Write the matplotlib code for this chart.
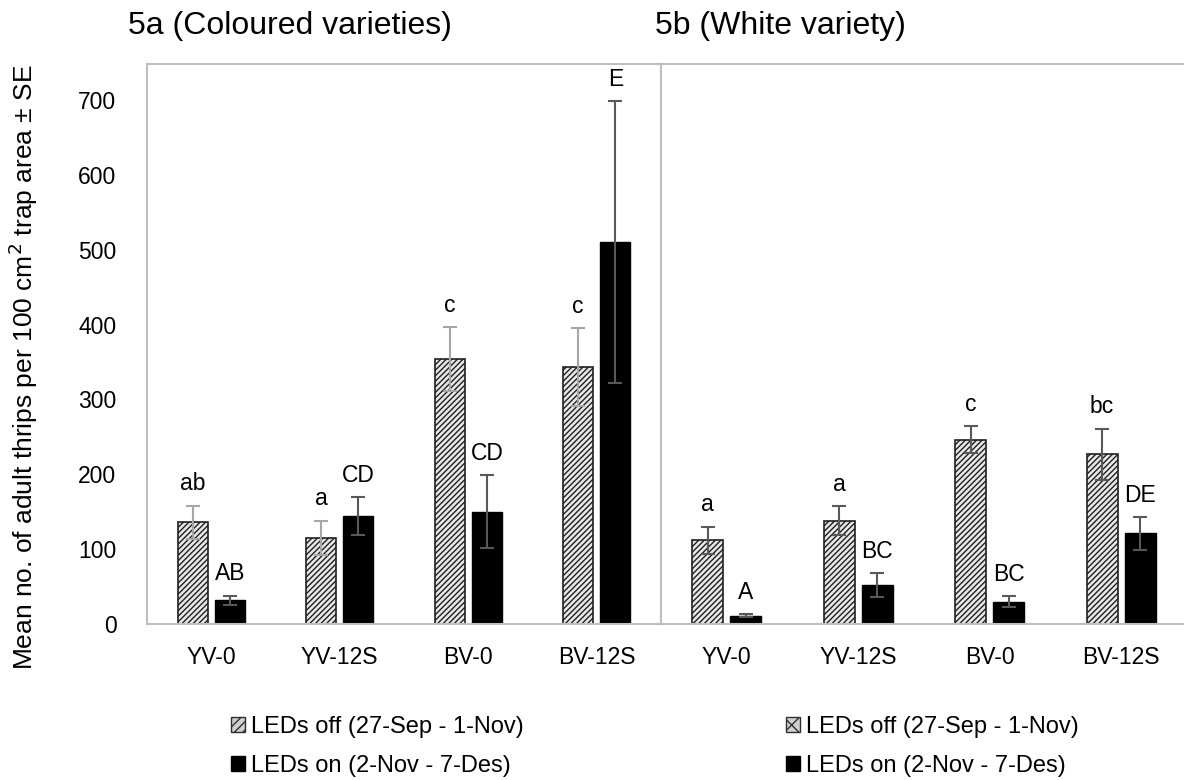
import numpy as np
import matplotlib.pyplot as plt
from matplotlib.patches import Patch

plt.rcParams['font.family'] = ['Liberation Sans', 'DejaVu Sans']
plt.rcParams['hatch.linewidth'] = 1.0

# data
cats = ["YV-0", "YV-12S", "BV-0", "BV-12S"]

a_off = [136, 115, 354, 343]
a_off_se = [22, 23, 43, 52]
a_on = [32, 144, 150, 510]
a_on_se = [6, 25, 49, 188]
a_off_lab = ["ab", "a", "c", "c"]
a_on_lab = ["AB", "CD", "CD", "E"]

b_off = [112, 138, 246, 227]
b_off_se = [18, 19, 18, 34]
b_on = [11, 52, 30, 121]
b_on_se = [2, 16, 7, 22]
b_off_lab = ["a", "a", "c", "bc"]
b_on_lab = ["A", "BC", "BC", "DE"]

yticks = [0, 100, 200, 300, 400, 500, 600, 700]

fig = plt.figure(figsize=(11.84, 7.8), dpi=100)
ax1 = fig.add_axes([147/1184, 1-624/780, 514/1184, 560/780])
ax2 = fig.add_axes([661/1184, 1-624/780, 526/1184, 560/780])

frame = "#bfbfbf"
w = 0.235
gap = 0.055
fs = 16.5


def panel(ax, off, off_se, on, on_se, off_lab, on_lab, off_ecol, on_ecol):
    x = np.arange(len(cats))
    xo = x - (w + gap) / 2
    xn = x + (w + gap) / 2
    ax.bar(xo, off, w, color="#e8e8e8", edgecolor="#202020", hatch="//////", linewidth=1.2)
    ax.bar(xn, on, w, color="black", edgecolor="black")
    ax.errorbar(xo, off, yerr=off_se, fmt="none", ecolor=off_ecol, capsize=5, elinewidth=1.5, capthick=1.5)
    ax.errorbar(xn, on, yerr=on_se, fmt="none", ecolor=on_ecol, capsize=5, elinewidth=1.5, capthick=1.5)
    for i in range(len(cats)):
        ax.text(xo[i], off[i] + off_se[i] + 29, off_lab[i], ha="center", va="center", fontsize=fs)
        ax.text(xn[i], on[i] + on_se[i] + 29, on_lab[i], ha="center", va="center", fontsize=fs)
    ax.set_xlim(-0.5, len(cats) - 0.5)
    ax.set_ylim(0, 748)
    ax.set_xticks(x)
    ax.set_xticklabels(cats, fontsize=fs)
    ax.tick_params(axis="x", length=0, pad=16)
    for s in ax.spines.values():
        s.set_color(frame)
        s.set_linewidth(1.5)


panel(ax1, a_off, a_off_se, a_on, a_on_se, a_off_lab, a_on_lab, "#a6a6a6", "#595959")
panel(ax2, b_off, b_off_se, b_on, b_on_se, b_off_lab, b_on_lab, "#595959", "#595959")

ax1.set_yticks(yticks)
ax1.tick_params(axis="y", length=0, labelsize=fs, pad=22)
ax2.set_yticks([])

fig.text(23/1184, 1-367/780, "Mean no. of adult thrips per 100 cm$^2$ trap area ± SE",
         rotation=90, ha="center", va="center", fontsize=19)

fig.text(128/1184, 1-26/780, "5a (Coloured varieties)", ha="left", va="center", fontsize=23)
fig.text(655/1184, 1-26/780, "5b (White variety)", ha="left", va="center", fontsize=23)

h1 = [Patch(facecolor="#d0d0d0", edgecolor="#303030", hatch="////", label="LEDs off (27-Sep - 1-Nov)"),
      Patch(facecolor="black", edgecolor="black", label="LEDs on (2-Nov - 7-Des)")]
h2 = [Patch(facecolor="#d0d0d0", edgecolor="#303030", hatch="xx", label="LEDs off (27-Sep - 1-Nov)"),
      Patch(facecolor="black", edgecolor="black", label="LEDs on (2-Nov - 7-Des)")]
kw = dict(frameon=False, fontsize=17, handlelength=0.6, handleheight=0.6, handletextpad=0.25,
          labelspacing=0.7, loc="upper left", borderpad=0, borderaxespad=0)
fig.legend(handles=h1, bbox_to_anchor=(231/1184, 1-716/780), **kw)
fig.legend(handles=h2, bbox_to_anchor=(786/1184, 1-716/780), **kw)

fig.savefig("out.png", dpi=100)
